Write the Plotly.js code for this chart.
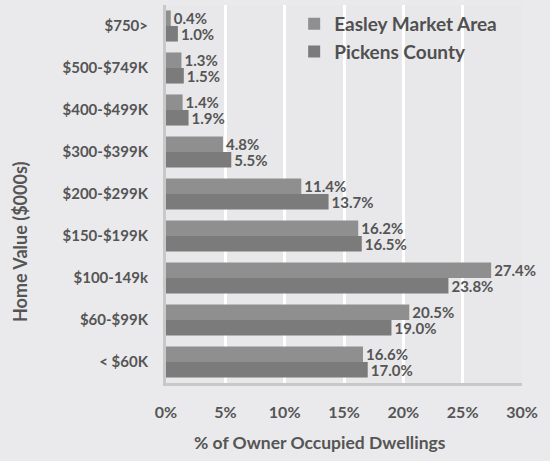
<!DOCTYPE html>
<html>
<head>
<meta charset="utf-8">
<script src="https://cdn.plot.ly/plotly-3.0.1.min.js"></script>
<style>html,body{margin:0;padding:0;background:#eaeaec;}</style>
</head>
<body>
<div id="chart" style="width:550px;height:461px;"></div>
<script>
var categories = ["< $60K", "$60-$99K", "$100-149k", "$150-$199K", "$200-$299K", "$300-$399K", "$400-$499K", "$500-$749K", "$750>"];
var easleyValues = [16.6, 20.5, 27.4, 16.2, 11.4, 4.8, 1.4, 1.3, 0.4];
var pickensValues = [17.0, 19.0, 23.8, 16.5, 13.7, 5.5, 1.9, 1.5, 1.0];
var xTickVals = [0, 5, 10, 15, 20, 25, 30];
var xTickText = ["0%", "5%", "10%", "15%", "20%", "25%", "30%"];

var fontFam = "Lato, 'Open Sans', sans-serif";
var txtColor = "#555555";

function lbl(arr) { return arr.map(function (v) { return v.toFixed(1) + "%"; }); }

var traces = [
  {
    type: "bar", orientation: "h", name: "Pickens County", legendrank: 2,
    y: categories, x: pickensValues, text: lbl(pickensValues),
    textposition: "outside", constraintext: "none", cliponaxis: false,
    textfont: {family: fontFam, size: 15, color: txtColor, weight: "bold"},
    marker: {color: "#7b7b7b"}, hoverinfo: "skip"
  },
  {
    type: "bar", orientation: "h", name: "Easley Market Area", legendrank: 1,
    y: categories, x: easleyValues, text: lbl(easleyValues),
    textposition: "outside", constraintext: "none", cliponaxis: false,
    textfont: {family: fontFam, size: 15, color: txtColor, weight: "bold"},
    marker: {color: "#8f8f8f"}, hoverinfo: "skip"
  }
];

var layout = {
  width: 550, height: 461,
  margin: {l: 166, r: 28, t: 5, b: 78},
  paper_bgcolor: "#eaeaec", plot_bgcolor: "#e8e8ea",
  barmode: "group", bargap: 0.26, bargroupgap: 0,
  font: {family: fontFam, color: txtColor, size: 14, weight: "bold"},
  showlegend: true,
  legend: {
    x: 0.36, y: 1, xanchor: "left", yanchor: "top",
    traceorder: "normal",
    bgcolor: "rgba(0,0,0,0)",
    font: {family: fontFam, size: 19, color: "#505050", weight: "bold"}
  },
  xaxis: {
    range: [0, 30], tickvals: xTickVals, ticktext: xTickText,
    showgrid: true, gridcolor: "#ffffff", gridwidth: 3,
    zeroline: false, showline: true, linecolor: "#c8c8c8", linewidth: 3,
    ticks: "", ticklabelstandoff: 13,
    tickfont: {family: fontFam, size: 16, color: txtColor, weight: "bold"},
    fixedrange: true
  },
  yaxis: {
    type: "category",
    showgrid: false, zeroline: false, showline: true, linecolor: "#c8c8c8", linewidth: 3,
    ticks: "", ticklabelstandoff: 12,
    tickfont: {family: fontFam, size: 15, color: txtColor, weight: "bold"},
    fixedrange: true
  },
  annotations: [
    {
      text: "% of Owner Occupied Dwellings", xref: "paper", yref: "paper",
      x: (320 - 166) / 356, y: -(443 - 383) / 378, xanchor: "center", yanchor: "middle",
      showarrow: false, font: {family: fontFam, size: 17.5, color: txtColor, weight: "bold"}
    },
    {
      text: "Home Value ($000s)", xref: "paper", yref: "paper", textangle: -90,
      x: -(166 - 20) / 356, y: (383 - 242) / 378, xanchor: "center", yanchor: "middle",
      showarrow: false, font: {family: fontFam, size: 18, color: txtColor, weight: "bold"}
    }
  ]
};

Plotly.newPlot("chart", traces, layout, {displayModeBar: false, staticPlot: true});
</script>
</body>
</html>
